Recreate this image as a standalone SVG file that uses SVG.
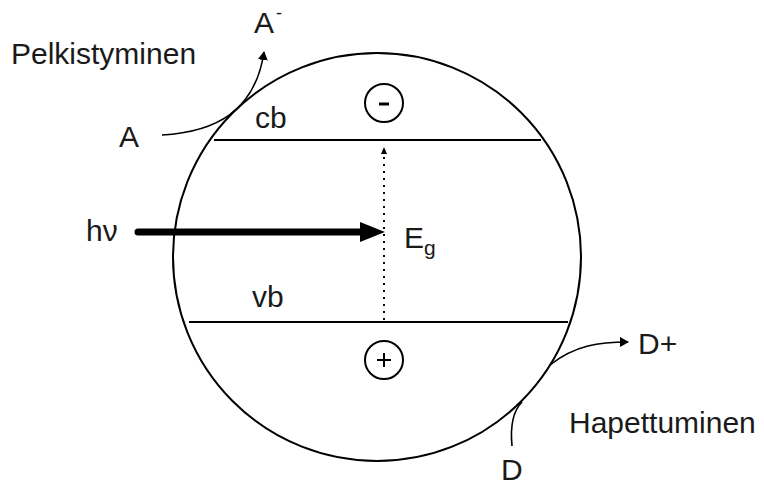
<svg xmlns="http://www.w3.org/2000/svg" width="764" height="487" viewBox="0 0 764 487">
<defs>
<style>
text{font-family:"Liberation Sans",Arial,sans-serif;fill:#1a1a1a}
.lbl{font-size:30px}
.ln{fill:none;stroke:#000;stroke-width:2}
.thin{fill:none;stroke:#000;stroke-width:1.6}
</style>
<marker id="ah" markerWidth="10" markerHeight="10" refX="8" refY="5" orient="auto" markerUnits="userSpaceOnUse"><path d="M0,0 L9,5 L0,10 z" fill="#000"/></marker>
<marker id="ahs" markerWidth="8" markerHeight="8" refX="6" refY="4" orient="auto" markerUnits="userSpaceOnUse"><path d="M0,1 L7,4 L0,7 z" fill="#000"/></marker>
</defs>
<rect width="764" height="487" fill="#fff"/>
<g id="particle">
<circle cx="377" cy="257" r="204" class="ln" stroke-width="3"/>
<line x1="214" y1="140" x2="541" y2="140" class="ln"/>
<line x1="189" y1="322" x2="568" y2="322" class="ln"/>
<text x="255" y="128" class="lbl">cb</text>
<text x="252" y="307" class="lbl">vb</text>
</g>
<g id="electron">
<circle cx="384" cy="103" r="19" class="ln"/>
<line x1="379" y1="104" x2="389" y2="104" stroke="#000" stroke-width="3"/>
</g>
<g id="hole">
<circle cx="384" cy="360" r="19" class="ln"/>
<line x1="377" y1="360" x2="391" y2="360" stroke="#000" stroke-width="2"/>
<line x1="384" y1="353" x2="384" y2="367" stroke="#000" stroke-width="2"/>
</g>
<g id="labels">
<text x="11" y="64" class="lbl">Pelkistyminen</text>
<text x="119" y="147" class="lbl">A</text>
<text x="254" y="33" class="lbl">A</text>
<text x="276" y="19" style="font-size:18px">-</text>
<text x="86" y="241" class="lbl">hν</text>
<text x="404" y="248" class="lbl">E</text>
<text x="424" y="255" style="font-size:21px">g</text>
<text x="638" y="354" class="lbl">D+</text>
<text x="569" y="433" class="lbl">Hapettuminen</text>
<text x="501" y="480" class="lbl">D</text>
</g>
<g id="connectors">
<line x1="384" y1="320" x2="384" y2="148" stroke="#000" stroke-width="2" stroke-dasharray="2,5" marker-end="url(#ahs)"/>
<line x1="138" y1="232" x2="372" y2="232" stroke="#000" stroke-width="7" stroke-linecap="round"/>
<path d="M360,222 L385,232 L360,242 z" fill="#000"/>
<path d="M162,135 C215,132 255,112 264,52" class="thin" marker-end="url(#ah)"/>
<path d="M550,365 C575,345 600,342 628,342" class="thin" marker-end="url(#ah)"/>
<path d="M512,446 C510,425 514,410 522,402" class="thin"/>
</g>
</svg>
